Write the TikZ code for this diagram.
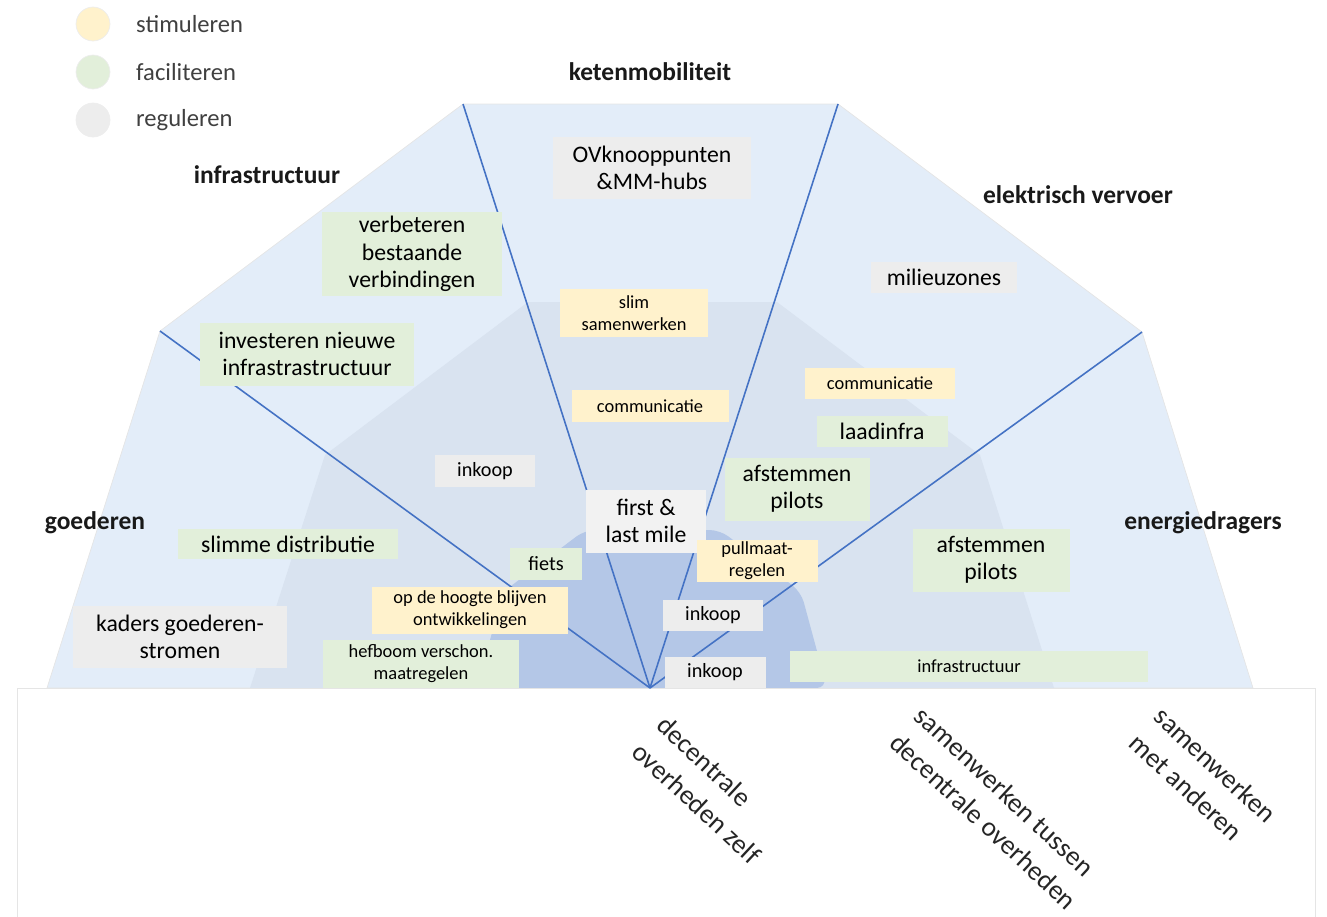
\documentclass[tikz,border=0pt]{standalone}
\usepackage{fontspec}
\setmainfont{Carlito}
\definecolor{outerblue}{HTML}{E3EDF9}
\definecolor{midblue}{HTML}{D9E3F0}
\definecolor{innerblue}{HTML}{B4C7E7}
\definecolor{spokeblue}{HTML}{4472C4}
\definecolor{stimyellow}{HTML}{FFF2CC}
\definecolor{facgreen}{HTML}{E2EFDA}
\definecolor{reggray}{HTML}{EDEDED}
\begin{document}
\begin{tikzpicture}[x=0.02cm,y=-0.02cm,
    boxsize/.style 2 args={inner sep=0pt,align=center,minimum width=#1*0.02cm,minimum height=#2*0.02cm},
    bigtext/.style={font=\fontsize{13.5}{15.5}\selectfont},
    midtext/.style={font=\fontsize{11.5}{13}\selectfont},
    smalltext/.style={font=\fontsize{10.5}{12.5}\selectfont},
    stimbox/.style={fill=stimyellow},
    facbox/.style={fill=facgreen},
    regbox/.style={fill=reggray},
    field/.style={font=\bfseries\fontsize{14.5}{17}\selectfont,text=black!90},
    tier/.style={font=\fontsize{15.5}{20.5}\selectfont,rotate=-43,align=left,text=black!85},
    spoke/.style={spokeblue,line width=0.9pt}]
    \useasboundingbox (0,0) rectangle (1327,916);
    % corner points of the fan
    \coordinate (o) at (650,688);
    \coordinate (lb) at (47,688);
    \coordinate (ls) at (160,331);
    \coordinate (tl) at (463,104);
    \coordinate (tr) at (838,104);
    \coordinate (rs) at (1142,332);
    \coordinate (rb) at (1253,688);
    % three rings
    \filldraw[fill=outerblue,draw=black!10] (lb) -- (ls) -- (tl) -- (tr) -- (rs) -- (rb) -- cycle;
    \fill[midblue] (250,688) -- (325,455) -- (528,302) -- (777,302) -- (980,455) -- (1054,688) -- cycle;
    \fill[innerblue,rounded corners=6pt] (477,688) -- (503,592) -- (585,530) -- (720,530) -- (801,592) -- (827,688) -- cycle;
    \filldraw[fill=white,draw=black!10] (17,688) rectangle (1315,940);
    % spokes
    \draw[spoke] (o) -- (ls);
    \draw[spoke] (o) -- (tl);
    \draw[spoke] (o) -- (tr);
    \draw[spoke] (o) -- (rs);
    % legend
    \node[circle,fill=stimyellow,draw=black!7,minimum size=34*0.02cm] (dotstim) at (93,24) {};
    \node[circle,fill=facgreen,draw=black!7,minimum size=34*0.02cm] (dotfac) at (93,72) {};
    \node[circle,fill=reggray,draw=black!7,minimum size=34*0.02cm] (dotreg) at (93,120) {};
    \node[anchor=west,text=black!75,font=\fontsize{14}{16}\selectfont] (keystim) at (130,24) {stimuleren};
    \node[anchor=west,text=black!75,font=\fontsize{14}{16}\selectfont] (keyfac) at (130,72) {faciliteren};
    \node[anchor=west,text=black!75,font=\fontsize{14}{16}\selectfont] (keyreg) at (130,120) {reguleren};
    % fields
    \node[field] (keten) at (650,72) {ketenmobiliteit};
    \node[field] (infra) at (267,175) {infrastructuur};
    \node[field] (elek) at (1078,195) {elektrisch vervoer};
    \node[field] (goed) at (95,523) {goederen};
    \node[field] (energie) at (1203,523) {energiedragers};
    % measures
    \node[regbox,bigtext,boxsize={198}{62}] (ov) at (652,168) {OVknooppunten\\\&MM-hubs};
    \node[facbox,bigtext,boxsize={180}{84}] (verb) at (412,254) {verbeteren\\bestaande\\verbindingen};
    \node[facbox,bigtext,boxsize={214}{63}] (inv) at (307,354) {investeren nieuwe\\infrastrastructuur};
    \node[regbox,bigtext,boxsize={146}{31}] (milieu) at (944,277) {milieuzones};
    \node[stimbox,smalltext,boxsize={148}{48}] (slim) at (634,313) {slim\\samenwerken};
    \node[stimbox,smalltext,boxsize={157}{32}] (commmid) at (650,406) {communicatie};
    \node[stimbox,smalltext,boxsize={150}{31}] (commright) at (880,383) {communicatie};
    \node[facbox,bigtext,boxsize={131}{31}] (laad) at (882,431) {laadinfra};
    \node[regbox,midtext,boxsize={100}{32}] (inkoopleft) at (485,471) {inkoop};
    \node[facbox,bigtext,boxsize={145}{63}] (afstelek) at (797,489) {afstemmen\\pilots};
    \node[fill=black!5,bigtext,boxsize={120}{63}] (first) at (646,521) {first \&\\last mile};
    \node[facbox,bigtext,boxsize={157}{63}] (afstenergie) at (991,560) {afstemmen\\pilots};
    \node[facbox,bigtext,boxsize={220}{30}] (distr) at (288,544) {slimme distributie};
    \node[facbox,midtext,boxsize={72}{32}] (fiets) at (546,564) {fiets};
    \node[stimbox,smalltext,boxsize={121}{42}] (pull) at (757,561) {pullmaat-\\regelen};
    \node[stimbox,smalltext,boxsize={196}{47}] (hoogte) at (470,610) {op de hoogte blijven\\ontwikkelingen};
    \node[regbox,midtext,boxsize={100}{31}] (inkoopmid) at (713,615) {inkoop};
    \node[regbox,bigtext,boxsize={214}{62}] (kaders) at (180,637) {kaders goederen-\\stromen};
    \node[facbox,smalltext,boxsize={196}{48}] (hefboom) at (421,664) {hefboom verschon.\\maatregelen};
    \node[regbox,midtext,boxsize={101}{31}] (inkooplow) at (715,672) {inkoop};
    \node[facbox,smalltext,boxsize={358}{31}] (infralow) at (969,666) {infrastructuur};
    % actor levels
    \node[tier] (zelf) at (709,790) {decentrale\\overheden zelf};
    \node[tier] (tussen) at (996,808) {samenwerken tussen\\decentrale overheden};
    \node[tier] (anderen) at (1203,778) {samenwerken\\met anderen};
\end{tikzpicture}
\end{document}
